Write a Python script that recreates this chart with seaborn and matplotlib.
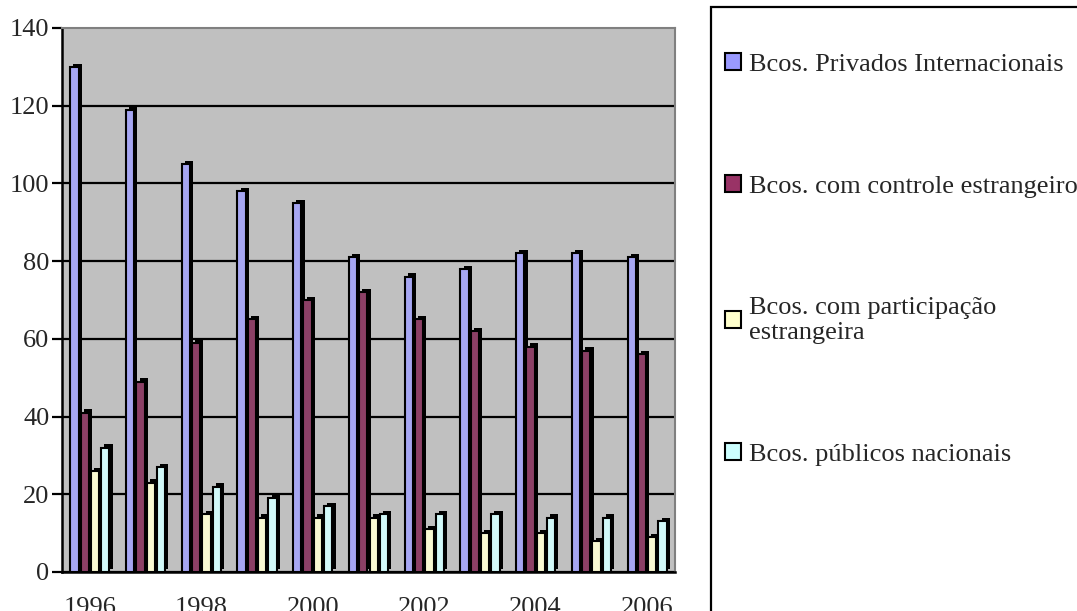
import numpy as np
import pandas as pd
import seaborn as sns
import matplotlib.pyplot as plt
import matplotlib.patheffects as pe
from matplotlib.patches import Patch, Rectangle

# Number of banks by type of ownership, 1996-2006
years = [1996, 1997, 1998, 1999, 2000, 2001, 2002, 2003, 2004, 2005, 2006]
privados_internacionais = [130, 119, 105, 98, 95, 81, 76, 78, 82, 82, 81]
controle_estrangeiro = [41, 49, 59, 65, 70, 72, 65, 62, 58, 57, 56]
participacao_estrangeira = [26, 23, 15, 14, 14, 14, 11, 10, 10, 8, 9]
publicos_nacionais = [32, 27, 22, 19, 17, 15, 15, 15, 14, 14, 13]

series_labels = [
    "Bcos. Privados Internacionais",
    "Bcos. com controle estrangeiro",
    "Bcos. com participação\nestrangeira",
    "Bcos. públicos nacionais",
]
series_colors = ["#9999FF", "#993366", "#FFFFCC", "#CCFFFF"]
year_tick_labels = ["1996", "", "1998", "", "2000", "", "2002", "", "2004", "", "2006"]
y_ticks = [0, 20, 40, 60, 80, 100, 120, 140]

frames = []
for label, values in zip(series_labels, [privados_internacionais, controle_estrangeiro,
                                         participacao_estrangeira, publicos_nacionais]):
    frames.append(pd.DataFrame({"Ano": years, "Bancos": values, "Tipo": label}))
df = pd.concat(frames, ignore_index=True)

sns.set_theme(style="white")
plt.rcParams["font.family"] = ["Liberation Serif", "DejaVu Serif"]

fig = plt.figure(figsize=(10.77, 6.11), dpi=100)
ax = fig.add_axes([62 / 1077, 1 - 572 / 611, (675 - 62) / 1077, (572 - 28) / 611])
ax.set_facecolor("#C0C0C0")

sns.barplot(data=df, x="Ano", y="Bancos", hue="Tipo", hue_order=series_labels,
            palette=series_colors, width=0.74, gap=0.2, edgecolor="black",
            linewidth=1.5, legend=False, ax=ax)

# dark side/top faces give the columns a 3-D look
for bar in ax.patches:
    bar.set_path_effects([pe.SimplePatchShadow(offset=(2.3, 2.3), shadow_rgbFace="black",
                                               alpha=1.0), pe.Normal()])

ax.set_ylim(0, 140)
ax.set_xlim(-0.5, len(years) - 0.5)
ax.set_yticks(y_ticks)
ax.set_yticklabels([str(v) for v in y_ticks], fontsize=19)
ax.yaxis.grid(True, color="black", linewidth=1.6)
for line in ax.get_ygridlines()[-1:]:
    line.set_visible(False)
ax.set_axisbelow(True)

ax.set_xticks(range(len(years)))
ax.set_xticklabels(year_tick_labels, fontsize=19)
ax.set_xticks(np.arange(-0.5, len(years)), minor=True)
ax.tick_params(axis="x", which="major", length=0, pad=18)
ax.tick_params(axis="x", which="minor", length=7, width=1.6, color="black", direction="out")
ax.tick_params(axis="y", which="major", length=7, width=1.6, color="black", direction="out",
               left=True, pad=2)
ax.set_xlabel("")
ax.set_ylabel("")

for side in ["left", "bottom"]:
    ax.spines[side].set_color("black")
    ax.spines[side].set_linewidth(1.8)
for side in ["top", "right"]:
    ax.spines[side].set_color("#808080")
    ax.spines[side].set_linewidth(1.5)

handles = [Patch(facecolor=c, edgecolor="black", linewidth=1.5) for c in series_colors]
fig.legend(handles, series_labels, loc="upper left", bbox_to_anchor=(725 / 1077, 1 - 53 / 611),
           frameon=False, fontsize=19, labelspacing=3.76, handlelength=0.6,
           handleheight=0.6, handletextpad=0.3, borderpad=0, borderaxespad=0)
fig.patches.append(Rectangle((711 / 1077, -0.1), 1.0, 1 - 7 / 611 + 0.1,
                             transform=fig.transFigure, fill=False,
                             edgecolor="black", linewidth=1.6))

fig.savefig("out.png", dpi=100)
